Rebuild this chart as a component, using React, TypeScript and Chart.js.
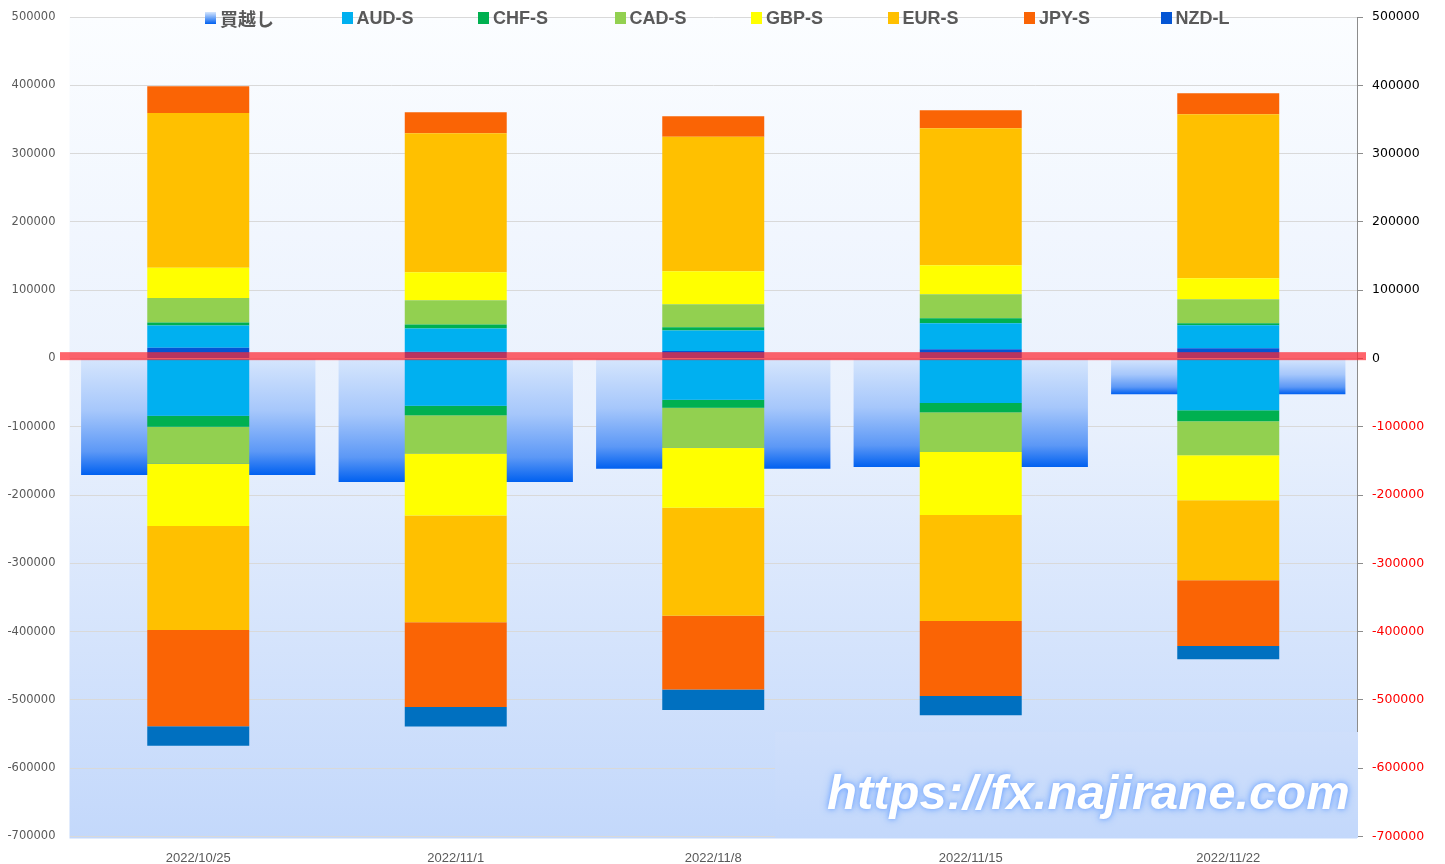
import React, { useEffect, useRef } from "react";
import { Chart, registerables } from "chart.js";

Chart.register(...registerables);

const categories = ["2022/10/25", "2022/11/1", "2022/11/8", "2022/11/15", "2022/11/22"];

// 買越し (net)
const netLong = [-170500, -181000, -161600, -159100, -52300];

// long side (positive stack, bottom to top)
const nzdL = [15500, 9700, 11100, 13600, 15100];
const audL = [32800, 34200, 29900, 38100, 33700];
const chfL = [4400, 5900, 4800, 7300, 2900];
const cadL = [36000, 35600, 33700, 35100, 35100];
const gbpL = [44000, 41000, 48300, 42500, 30800];
const eurL = [226900, 203500, 196700, 200500, 240100];
const jpyL = [39100, 30700, 30300, 26400, 30700];

// short side (negative stack, top to bottom)
const audS = [-84000, -69400, -60600, -65400, -75700];
const chfS = [-16100, -13600, -11700, -13200, -16100];
const cadS = [-54200, -56100, -58600, -58500, -49800];
const gbpS = [-91200, -90800, -87800, -92300, -65900];
const eurS = [-152300, -156200, -158200, -155200, -117100];
const jpyS = [-140600, -124400, -107700, -109800, -96600];
const nzdS = [-28800, -28300, -30300, -27900, -19100];

const yTicks = [500000, 400000, 300000, 200000, 100000, 0, -100000, -200000, -300000, -400000, -500000, -600000, -700000];

const COL = {
  nzdL: "#0455D4",
  aud: "#00B0F0",
  chf: "#00B050",
  cad: "#92D050",
  gbp: "#FFFF00",
  eur: "#FFC000",
  jpy: "#FA6405",
  nzdS: "#0070C0",
};

const legendItems = [
  { name: "買越し", color: "linear-gradient(#D6E6FD, #0060F0)" },
  { name: "AUD-S", color: COL.aud },
  { name: "CHF-S", color: COL.chf },
  { name: "CAD-S", color: COL.cad },
  { name: "GBP-S", color: COL.gbp },
  { name: "EUR-S", color: COL.eur },
  { name: "JPY-S", color: COL.jpy },
  { name: "NZD-L", color: COL.nzdL },
];

const bgPlugin = {
  id: "plotBg",
  beforeDraw(chart: any) {
    const { ctx, chartArea } = chart;
    if (!chartArea) return;
    const g = ctx.createLinearGradient(0, chartArea.top, 0, chartArea.bottom + 2);
    g.addColorStop(0, "#FBFDFF");
    g.addColorStop(0.5, "#E8F0FD");
    g.addColorStop(1, "#C3D8FB");
    ctx.save();
    ctx.fillStyle = g;
    ctx.fillRect(chartArea.left, chartArea.top, chartArea.right - chartArea.left, chartArea.bottom - chartArea.top + 2);
    ctx.restore();
  },
};

const zeroLinePlugin = {
  id: "zeroLine",
  afterDatasetsDraw(chart: any) {
    const { ctx, chartArea, scales } = chart;
    const y0 = scales.y.getPixelForValue(0);
    ctx.save();
    ctx.fillStyle = "rgba(255,40,50,0.72)";
    ctx.fillRect(chartArea.left - 9.5, y0 - 6.3, chartArea.right - chartArea.left + 18.5, 8);
    ctx.restore();
  },
};

function netGradient(context: any) {
  const chart = context.chart;
  const { ctx, chartArea, scales } = chart;
  if (!chartArea) return "#7FAEF8";
  const v = context.raw as number;
  const y0 = scales.y.getPixelForValue(0);
  const y1 = scales.y.getPixelForValue(v);
  if (!isFinite(y0) || !isFinite(y1) || y0 === y1) return "#7FAEF8";
  const g = ctx.createLinearGradient(0, y0, 0, y1);
  g.addColorStop(0, "#D6E6FD");
  g.addColorStop(0.45, "#A6C7FB");
  g.addColorStop(0.8, "#5C98F6");
  g.addColorStop(1, "#0060F0");
  return g;
}

export default function App() {
  const ref = useRef<HTMLCanvasElement | null>(null);

  useEffect(() => {
    document.body.style.margin = "0";
    document.body.style.overflow = "hidden";
    const canvas = ref.current;
    if (!canvas) return;
    const stackBar = (label: string, data: number[], color: string) => ({
      label,
      data,
      backgroundColor: color,
      borderWidth: 0,
      stack: "pos",
      grouped: false,
      barPercentage: 0.396,
      categoryPercentage: 1,
      order: 0,
    });
    const chart = new Chart(canvas, {
      type: "bar",
      data: {
        labels: categories,
        datasets: [
          stackBar("NZD-L", nzdL, COL.nzdL),
          stackBar("AUD-L", audL, COL.aud),
          stackBar("AUD-S", audS, COL.aud),
          stackBar("CHF-L", chfL, COL.chf),
          stackBar("CHF-S", chfS, COL.chf),
          stackBar("CAD-L", cadL, COL.cad),
          stackBar("CAD-S", cadS, COL.cad),
          stackBar("GBP-L", gbpL, COL.gbp),
          stackBar("GBP-S", gbpS, COL.gbp),
          stackBar("EUR-L", eurL, COL.eur),
          stackBar("EUR-S", eurS, COL.eur),
          stackBar("JPY-L", jpyL, COL.jpy),
          stackBar("JPY-S", jpyS, COL.jpy),
          stackBar("NZD-S", nzdS, COL.nzdS),
          {
            label: "買越し",
            data: netLong,
            backgroundColor: netGradient,
            borderWidth: 0,
            stack: "net",
            grouped: false,
            barPercentage: 0.91,
            categoryPercentage: 1,
            order: 1,
          } as any,
        ],
      },
      options: {
        responsive: false,
        animation: false,
        layout: { padding: { top: 17, left: 0, right: 0, bottom: 0 } },
        plugins: {
          legend: { display: false },
          tooltip: { enabled: false },
        },
        scales: {
          x: {
            stacked: true,
            offset: true,
            grid: { display: false },
            border: { display: false },
            ticks: {
              color: "#595959",
              font: { family: "Liberation Sans", size: 13 },
              padding: 6,
              maxRotation: 0,
            },
            afterFit: (s: any) => {
              s.height = 27.5;
            },
          },
          y: {
            stacked: true,
            position: "left",
            min: -700000,
            max: 500000,
            afterBuildTicks: (s: any) => {
              s.ticks = yTicks.map((v) => ({ value: v }));
            },
            grid: { color: "#D9D9D9", drawTicks: true, tickLength: 14, tickColor: "rgba(0,0,0,0)", lineWidth: 1 },
            border: { display: false },
            ticks: {
              color: "#595959",
              font: { family: "DejaVu Sans", size: 11.5 },
              padding: 0,
              callback: (v: any) => String(v),
            },
            afterFit: (s: any) => {
              s.width = 69.5;
            },
          },
          y2: {
            position: "right",
            min: -700000,
            max: 500000,
            afterBuildTicks: (s: any) => {
              s.ticks = yTicks.map((v) => ({ value: v }));
            },
            grid: { drawOnChartArea: false, color: "#8C8C8C", tickLength: 6 },
            border: { display: true, color: "#8C8C8C", width: 1 },
            ticks: {
              color: (c: any) => (c.tick && c.tick.value < 0 ? "#FF0000" : "#000000"),
              font: { family: "DejaVu Sans", size: 12.5 },
              padding: 9,
              callback: (v: any) => String(v),
            },
            afterFit: (s: any) => {
              s.width = 88;
            },
          },
        },
      },
      plugins: [bgPlugin, zeroLinePlugin],
    });
    return () => chart.destroy();
  }, []);

  return (
    <div style={{ position: "relative", width: 1445, height: 864, overflow: "hidden", background: "#FFFFFF" }}>
      <canvas ref={ref} width={1445} height={864} style={{ display: "block", width: 1445, height: 864 }} />
      <div
        style={{
          position: "absolute",
          left: 200,
          top: 7,
          display: "flex",
          fontFamily: "'Liberation Sans', 'Noto Sans CJK JP', sans-serif",
          fontWeight: "bold",
          fontSize: 18,
          color: "#595959",
          whiteSpace: "nowrap",
        }}
      >
        {legendItems.map((it) => (
          <div key={it.name} style={{ width: 136.5, display: "flex", alignItems: "center", height: 22 }}>
            <span
              style={{
                display: "inline-block",
                width: 11,
                height: 12,
                marginLeft: 5,
                marginRight: 4,
                background: it.color,
              }}
            />
            <span>{it.name}</span>
          </div>
        ))}
      </div>
      <div
        style={{
          position: "absolute",
          left: 775,
          top: 732,
          width: 583,
          height: 106,
          background: "linear-gradient(#CFDFFB, #C3D8FB)",
        }}
      />
      <div
        style={{
          position: "absolute",
          left: 827,
          top: 764,
          fontFamily: "'Liberation Sans', sans-serif",
          fontWeight: "bold",
          fontStyle: "italic",
          fontSize: 49,
          color: "#FFFFFF",
          textShadow: "0 0 5px #6FA4FF, 0 0 10px #8DB8FF",
          whiteSpace: "nowrap",
        }}
      >
        https://fx.najirane.com
      </div>
    </div>
  );
}
